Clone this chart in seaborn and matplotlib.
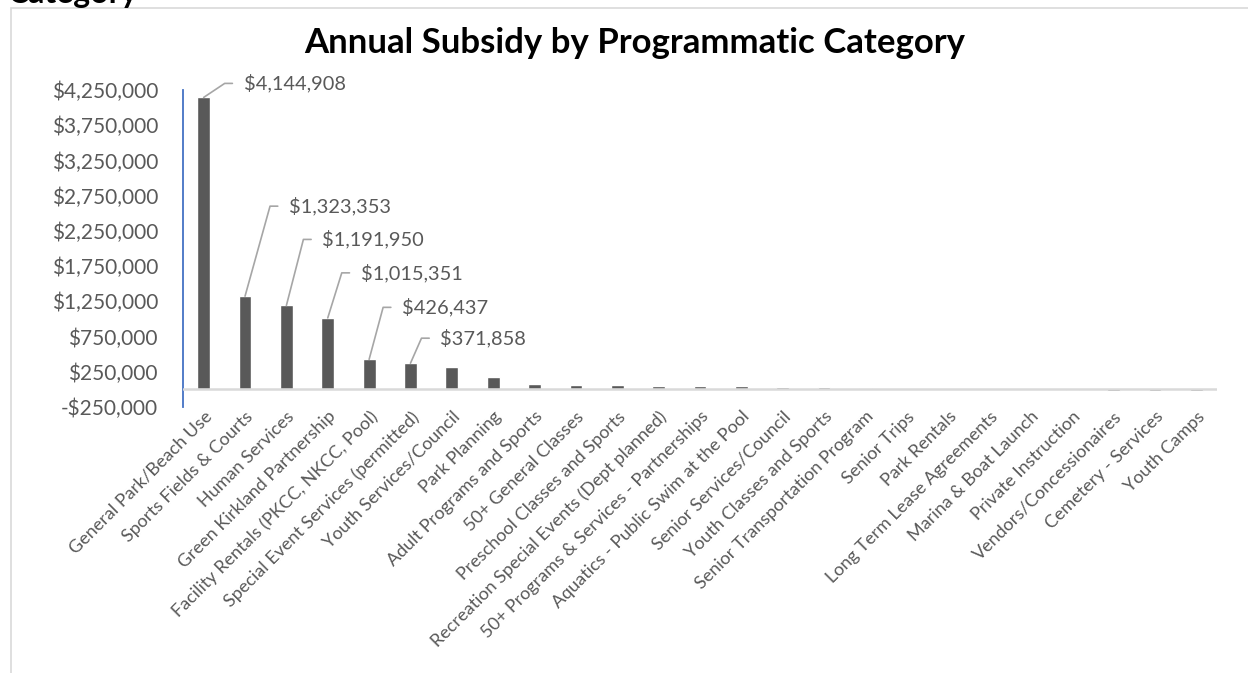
import numpy as np
import pandas as pd
import matplotlib
matplotlib.use("Agg")
import matplotlib.pyplot as plt
import seaborn as sns
from matplotlib.patches import Rectangle
from matplotlib.ticker import FuncFormatter, FixedLocator

# ---------------- data ----------------
categories = [
    "General Park/Beach Use",
    "Sports Fields & Courts",
    "Human Services",
    "Green Kirkland Partnership",
    "Facility Rentals (PKCC, NKCC, Pool)",
    "Special Event Services (permitted)",
    "Youth Services/Council",
    "Park Planning",
    "Adult Programs and Sports",
    "50+ General Classes",
    "Preschool Classes and Sports",
    "Recreation Special Events (Dept planned)",
    "50+ Programs & Services - Partnerships",
    "Aquatics - Public Swim at the Pool",
    "Senior Services/Council",
    "Youth Classes and Sports",
    "Senior Transportation Program",
    "Senior Trips",
    "Park Rentals",
    "Long Term Lease Agreements",
    "Marina & Boat Launch",
    "Private Instruction",
    "Vendors/Concessionaires",
    "Cemetery - Services",
    "Youth Camps",
]
subsidy = [
    4144908, 1323353, 1191950, 1015351, 426437, 371858,
    322000, 175000, 77000, 58000, 56000, 48000, 47000, 46000,
    38000, 32000, 17000, 5000, 1000, 500, 500,
    -8000, -27000, -27000, -27000,
]
labeled_count = 6
y_ticks = list(range(-250000, 4250001, 500000))
title = "Annual Subsidy by Programmatic Category"
fragment = "Category"

# ---------------- style ----------------
W, H = 1248, 673
TXT = "#595959"
sns.set_theme(style="white")
plt.rcParams["font.family"] = ["Lato", "DejaVu Sans"]

fig = plt.figure(figsize=(W / 100, H / 100), dpi=100)
fig.patch.set_facecolor("white")

# chart frame (light grey border)
fig.add_artist(Rectangle((10.5 / W, -0.1), 2.0, 1.1 - 8.5 / H,
                         transform=fig.transFigure, fill=False,
                         edgecolor="#D9D9D9", lw=1.2))

# cut-off heading fragment at the very top left
fig.text(138 / W, 1 - 3 / H, fragment, ha="right", va="baseline",
         fontsize=23, fontweight="bold", color="black")

ax = fig.add_axes([183 / W, 1 - 407 / H, (1217 - 183) / W, (407 - 90) / H])
df = pd.DataFrame({"category": categories, "subsidy": subsidy})
sns.barplot(data=df, x="category", y="subsidy", color=TXT, saturation=1,
            width=0.31, ax=ax, errorbar=None)

ax.set_xlim(-0.5, len(categories) - 0.5)
ax.set_ylim(y_ticks[0], y_ticks[-1])
ax.yaxis.set_major_locator(FixedLocator(y_ticks))
ax.yaxis.set_major_formatter(FuncFormatter(
    lambda v, p: f"-${abs(v):,.0f}" if v < 0 else f"${v:,.0f}"))
ax.set_xlabel("")
ax.set_ylabel("")
ax.grid(False)

for s in ("top", "right", "bottom"):
    ax.spines[s].set_visible(False)
ax.spines["left"].set_color("#4472C4")
ax.spines["left"].set_linewidth(1.3)

ax.axhline(0, color="#D9D9D9", lw=1.8, zorder=3)

ax.tick_params(axis="y", length=0, pad=18, labelsize=15, labelcolor=TXT)
ax.tick_params(axis="x", length=0, pad=1, labelsize=13, labelcolor=TXT)
for lab in ax.get_xticklabels():
    lab.set_rotation(45)
    lab.set_ha("right")
    lab.set_va("top")
    lab.set_rotation_mode("anchor")

# data labels with leader lines (offsets in pixels)
corner_offsets = [(21, 14), (25, 90), (17, 66), (14, 45), (14, 52), (11, 25)]
h_len = 11
gap = 8
for i in range(labeled_count):
    v = subsidy[i]
    cx, cy = corner_offsets[i]
    ang = np.degrees(np.arctan2(cy, cx))
    ax.annotate(f"${v:,.0f}", xy=(i, v), xytext=(cx + h_len + gap, cy),
                textcoords="offset pixels", ha="left", va="center",
                fontsize=14.4, color=TXT,
                arrowprops=dict(arrowstyle="-", color="#A6A6A6", lw=1.2,
                                shrinkA=gap * 0.72, shrinkB=0,
                                relpos=(0, 0.5),
                                connectionstyle=f"angle,angleA=0,angleB={ang},rad=0"))

fig.text(635 / W, 1 - 43 / H, title, ha="center", va="center",
         fontsize=25, fontweight="bold", color="black")

fig.savefig("out.png", dpi=100, facecolor="white")
